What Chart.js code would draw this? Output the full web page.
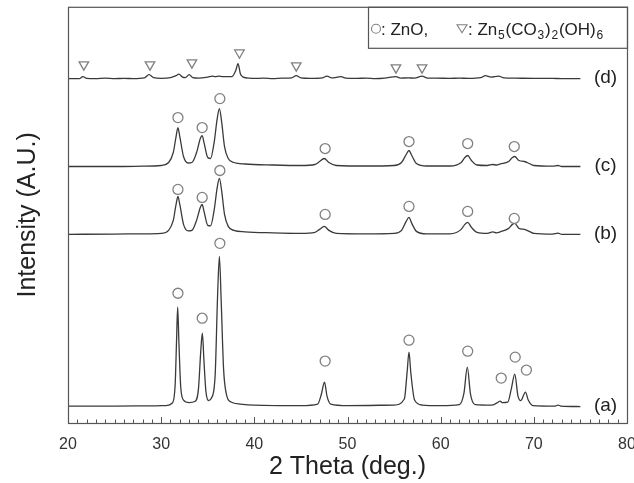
<!DOCTYPE html>
<html>
<head>
<meta charset="utf-8">
<script src="https://cdn.jsdelivr.net/npm/chart.js@4/dist/chart.umd.min.js"></script>
<style>
  html, body { margin: 0; padding: 0; background: #fff; overflow: hidden; }
  #wrap { position: relative; width: 634px; height: 483px; }
</style>
</head>
<body>
<div id="wrap"><canvas id="xrdChart"></canvas></div>
<script>
// x axis ticks (2 theta, deg.)
var xTicks = [20, 30, 40, 50, 60, 70, 80];
var sampleNames = ['(a)', '(b)', '(c)', '(d)'];
// vertical offset of each pattern (stacked plot, A.U.)
var offsets = [16, 189, 257, 345];

// (a)
var thetaA = [20, 25, 29, 30.5, 31.2, 31.5, 31.65, 31.77, 31.9, 32.1, 32.4, 33, 33.6, 34.0, 34.25, 34.42, 34.6, 34.8, 35.1, 35.4, 35.8, 36.05, 36.25, 36.45, 36.7, 37.0, 37.5, 38.5, 40, 45, 46.8, 47.2, 47.53, 47.8, 48.2, 50, 55, 56.1, 56.4, 56.6, 56.8, 57.2, 58, 60, 62, 62.5, 62.86, 63.2, 63.7, 65.5, 66.2, 66.38, 66.6, 67.2, 67.6, 67.95, 68.3, 68.6, 69.1, 69.4, 69.9, 72.3, 72.6, 72.9, 75];
var intA = [1, 1, 1.2, 1.5, 4, 22, 66, 100, 66, 20, 7, 4.5, 5.5, 18, 56, 74, 45, 16, 6.5, 9, 33, 110, 151, 104, 38, 13, 5, 3, 2, 1.5, 3, 13, 25, 11, 3, 1.5, 2, 8, 35, 55, 34, 7, 2, 1.5, 2.5, 14, 40, 13, 2.5, 2, 5, 6, 4.5, 5, 19, 33, 11, 6.5, 15, 7, 1.5, 1, 2, 1, 0.5];

// (b)
var thetaB = [20, 25, 28, 30, 30.8, 31.3, 31.6, 31.8, 32.0, 32.4, 32.9, 33.3, 33.8, 34.2, 34.4, 34.6, 35.0, 35.3, 35.7, 36.0, 36.25, 36.5, 36.8, 37.2, 37.8, 39, 42, 45, 46.5, 47.0, 47.5, 48.0, 48.8, 52, 55, 55.8, 56.3, 56.6, 56.9, 57.4, 58.5, 61, 62.2, 62.6, 62.9, 63.3, 63.9, 65, 65.6, 66, 66.4, 67.3, 67.7, 67.95, 68.4, 69.0, 69.5, 70, 72, 72.6, 73, 75];
var intB = [0, 0.3, 0.5, 1, 4, 14, 30, 38, 30, 10, 3.5, 4, 14, 27, 30, 23, 9, 8.5, 25, 46, 56, 43, 20, 8, 4, 2.5, 1.5, 1, 2, 5, 8, 4, 1, 0.5, 1, 4, 13, 17, 11, 3, 0.5, 0.5, 5, 10, 12, 7, 2, 1, 2.5, 1.5, 2.5, 6, 10, 11, 6, 5, 3, 1, 0.3, 1.2, 0, 0];

// (c)
var thetaC = [20, 25, 28, 30, 30.8, 31.3, 31.6, 31.8, 32.0, 32.4, 32.9, 33.3, 33.8, 34.2, 34.4, 34.6, 35.0, 35.3, 35.7, 36.0, 36.25, 36.5, 36.8, 37.2, 37.8, 39, 42, 45, 46.5, 47.0, 47.5, 48.0, 48.8, 52, 55, 55.8, 56.3, 56.6, 56.9, 57.4, 58.5, 61, 62.2, 62.6, 62.9, 63.3, 63.9, 65, 65.6, 66, 66.4, 67.3, 67.7, 67.95, 68.4, 69.0, 69.5, 70, 72, 72.6, 73, 75];
var intC = [0, 0, 0.3, 1, 4, 14, 30, 39, 30, 10, 3.5, 4, 14, 28, 31, 24, 9, 8, 25, 47, 58, 44, 20, 8, 4, 2.5, 1.5, 1, 2, 5, 8, 4, 1, 0.5, 1, 4, 12, 16, 11, 3, 0.5, 0.5, 4, 9, 11, 6, 1.5, 1, 2, 1.5, 2.5, 5, 9, 10, 6, 5, 3, 1, 0.3, 1, 0, 0];

// (d)
var thetaD = [20, 21.2, 21.6, 22.0, 23, 24, 25, 26, 27, 28.2, 28.7, 29.2, 30, 31.0, 31.6, 31.9, 32.3, 32.6, 33.0, 33.4, 34, 35, 35.5, 35.8, 36.2, 36.6, 37, 37.6, 38.0, 38.25, 38.5, 38.8, 39.5, 40, 41, 42, 43, 44, 44.5, 45, 46, 47.3, 47.8, 48.3, 49.3, 49.8, 51, 52, 53, 54, 55.2, 55.7, 56.5, 57.2, 58, 58.6, 59.5, 61, 62, 63, 64.3, 64.8, 65.4, 66.2, 66.8, 68, 70, 72, 73, 75];
var intD = [0, 0, 2, 0.3, 0, 0.5, 0, 0.3, 0, 0.8, 4, 1, 0.3, 1, 3, 4.5, 1.5, 1, 4, 1, 0.5, 1.5, 2.5, 2, 2.5, 2, 2, 2, 8, 15, 5, 1.5, 0.5, 0.2, 0.5, 0, 0.5, 0.8, 3, 0.8, 0.3, 0.8, 2.5, 0.8, 2, 0.5, 0.3, 0.5, 0, 0.5, 2, 0.5, 0.8, 0.5, 2.5, 0.5, 0.5, 0.3, 0.5, 0.3, 1, 3, 1.5, 2.5, 0.8, 0.5, 0.3, 0.3, 0, 0];

// ZnO peak markers (circles), height above each baseline
var znoA_x = [31.8, 34.4, 36.3, 47.6, 56.6, 62.9, 66.5, 68.0, 69.2];
var znoA_h = [114, 89, 164, 46, 67, 56, 29, 50, 37];
var znoB_x = [31.8, 34.4, 36.3, 47.6, 56.6, 62.9, 67.9];
var znoB_h = [45, 37, 64, 20, 28, 23, 16];
var znoC_x = [31.8, 34.4, 36.3, 47.6, 56.6, 62.9, 67.9];
var znoC_h = [49, 39, 68, 18, 25, 23, 20];
// Zn5(CO3)2(OH)6 peak markers (triangles) on (d)
var hzD_x = [21.7, 28.8, 33.3, 38.4, 44.5, 55.2, 58.0];
var hzD_h = [14, 14, 16, 26, 13, 11, 11];

function pts(xs, ys, off) {
  var out = [];
  for (var i = 0; i < xs.length; i++) out.push({x: xs[i], y: ys[i] + off});
  return out;
}

function trace(xs, ys, off) {
  return {
    data: pts(xs, ys, off),
    showLine: true,
    borderColor: '#3a3a3a',
    borderWidth: 1.3,
    pointRadius: 0,
    cubicInterpolationMode: 'monotone',
    order: 2
  };
}

function markers(xs, hs, off, style) {
  return {
    data: pts(xs, hs, off),
    showLine: false,
    pointStyle: style,
    rotation: style == 'triangle' ? 180 : 0,
    pointRadius: style == 'triangle' ? 5.5 : 5,
    pointBackgroundColor: '#fff',
    pointBorderColor: '#808080',
    pointBorderWidth: 1.3,
    order: 1
  };
}

var framePlugin = {
  id: 'frame',
  afterDatasetsDraw: function(chart) {
    var ctx = chart.ctx, a = chart.chartArea;
    var xs = chart.scales.x, ys = chart.scales.y;
    ctx.save();
    // sample labels
    ctx.fillStyle = '#222';
    ctx.font = '19px "Liberation Sans", Arial, sans-serif';
    ctx.textAlign = 'center';
    ctx.textBaseline = 'middle';
    for (var i = 0; i < sampleNames.length; i++) {
      ctx.fillText(sampleNames[i], xs.getPixelForValue(77.7), ys.getPixelForValue(offsets[i] + 1));
    }
    // minor / major ticks pointing inside
    ctx.strokeStyle = '#555';
    ctx.lineWidth = 1;
    for (var t = 20; t <= 80; t++) {
      var px = Math.round(xs.getPixelForValue(t)) + 0.5;
      var len = (t % 10 == 0) ? 6 : 3.5;
      ctx.beginPath();
      ctx.moveTo(px, a.bottom);
      ctx.lineTo(px, a.bottom - len);
      ctx.stroke();
    }
    // legend box
    var lx = 368, ly = a.top, lw = a.right - 368, lh = 41;
    ctx.fillStyle = '#fff';
    ctx.fillRect(lx, ly, lw, lh);
    ctx.strokeStyle = '#555';
    ctx.lineWidth = 1.2;
    ctx.strokeRect(lx + 0.5, ly + 0.5, lw, lh);
    var ty = ly + 22;
    ctx.strokeStyle = '#808080';
    ctx.lineWidth = 1.1;
    ctx.beginPath();
    ctx.arc(376, ty, 4.5, 0, Math.PI * 2);
    ctx.stroke();
    ctx.beginPath();
    ctx.moveTo(457, ty - 4);
    ctx.lineTo(467, ty - 4);
    ctx.lineTo(462, ty + 4);
    ctx.closePath();
    ctx.stroke();
    ctx.fillStyle = '#222';
    ctx.textAlign = 'left';
    ctx.textBaseline = 'alphabetic';
    var big = '17px "Liberation Sans", Arial, sans-serif';
    var small = '12px "Liberation Sans", Arial, sans-serif';
    ctx.font = big;
    ctx.fillText(': ZnO,', 381, ty + 6);
    var parts = [[': Zn', 0], ['5', 1], ['(CO', 0], ['3', 1], [')', 0], ['2', 1], ['(OH)', 0], ['6', 1]];
    var cx = 468;
    for (var k = 0; k < parts.length; k++) {
      ctx.font = parts[k][1] ? small : big;
      ctx.fillText(parts[k][0], cx, ty + 6 + (parts[k][1] ? 4 : 0));
      cx += ctx.measureText(parts[k][0]).width + 0.8;
    }
    // plot frame
    ctx.strokeStyle = '#555';
    ctx.lineWidth = 1.2;
    ctx.strokeRect(a.left + 0.5, a.top + 0.5, a.right - a.left, a.bottom - a.top);
    ctx.restore();
  }
};

var ctx = document.getElementById('xrdChart');

var xrdChart = new Chart(ctx, {
  type: 'scatter',
  data: {
    datasets: [
      trace(thetaA, intA, offsets[0]),
      trace(thetaB, intB, offsets[1]),
      trace(thetaC, intC, offsets[2]),
      trace(thetaD, intD, offsets[3]),
      markers(znoA_x, znoA_h, offsets[0], 'circle'),
      markers(znoB_x, znoB_h, offsets[1], 'circle'),
      markers(znoC_x, znoC_h, offsets[2], 'circle'),
      markers(hzD_x, hzD_h, offsets[3], 'triangle')
    ]
  },
  options: {
    responsive: true,
    maintainAspectRatio: false,
    animation: false,
    layout: { padding: { top: 6, right: 7, left: 0, bottom: 0 } },
    plugins: { legend: { display: false }, tooltip: { enabled: false } },
    scales: {
      x: {
        type: 'linear',
        min: 20,
        max: 80,
        afterBuildTicks: function(s) { s.ticks = xTicks.map(function(v) { return {value: v}; }); },
        afterFit: function(s) { s.height = 60; s.paddingLeft = 0; s.paddingRight = 0; },
        grid: { display: false },
        border: { display: false },
        ticks: { color: '#333', padding: 4, maxRotation: 0, font: { size: 16, family: '"Liberation Sans", Arial, sans-serif' } },
        title: { display: true, text: '2 Theta (deg.)', color: '#222', padding: { top: 0, bottom: 1 }, font: { size: 25, family: '"Liberation Sans", Arial, sans-serif' } }
      },
      y: {
        min: 0,
        max: 417,
        afterFit: function(s) { s.width = 68; },
        grid: { display: false },
        border: { display: false },
        ticks: { display: false },
        title: { display: true, text: 'Intensity (A.U.)', color: '#222', padding: { top: 13, bottom: 0 }, font: { size: 25, family: '"Liberation Sans", Arial, sans-serif' } }
      }
    }
  },
  plugins: [framePlugin]
});
</script>
</body>
</html>
